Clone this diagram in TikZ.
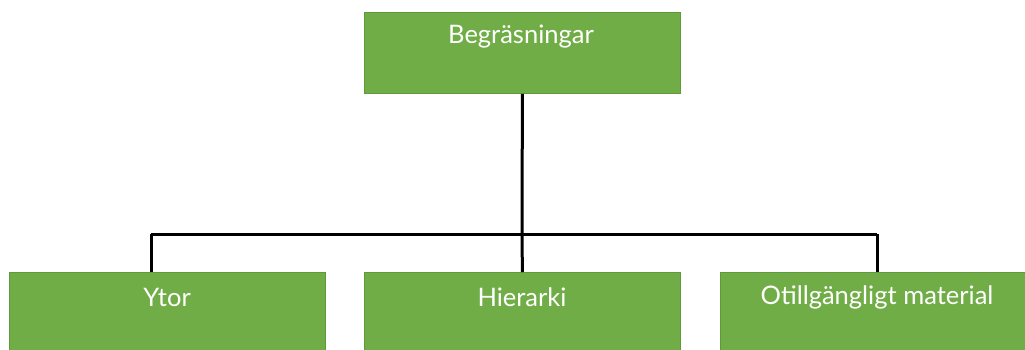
\documentclass[tikz,border=0pt]{standalone}
\usepackage{fontspec}
\setmainfont{Lato}
\definecolor{boxgreen}{HTML}{70AD47}
\definecolor{boxedge}{HTML}{5E9A3A}
\tikzset{
  x=1pt, y=-1pt,
  box/.style={rectangle, fill=boxgreen, draw=boxedge, line width=0.8pt, minimum width=316pt, minimum height=81pt, inner sep=0pt, anchor=north west},
  lbl/.style={text=white, font=\fontsize{25.5}{28}\selectfont, inner sep=0pt, anchor=center},
  conn/.style={draw=black, line width=3pt}
}
\begin{document}
\begin{tikzpicture}
\useasboundingbox (0,0) rectangle (1025,349);
\clip (0,0) rectangle (1025,349);
\node[box] (top) at (364,12) {};
\node[box] (ytor) at (9,272) {};
\node[box] (hier) at (364,272) {};
\node[box] (otill) at (720,272) {};
\node[lbl] (ttop) at (521,37) {Begräsningar};
\node[lbl] (tytor) at (167,297) {Ytor};
\node[lbl] (thier) at (522,297) {Hierarki};
\node[lbl] (totill) at (877,297) {Otillgängligt material};
\coordinate (jl) at (151,234);
\coordinate (jm) at (522,234);
\coordinate (jr) at (877,234);
\draw[conn] (top.south) -- (jm);
\draw[conn] (jl) -- (jr);
\draw[conn] (jl) -- (jl |- ytor.north);
\draw[conn] (jm) -- (hier.north);
\draw[conn] (jr) -- (jr |- otill.north);
\end{tikzpicture}
\end{document}
